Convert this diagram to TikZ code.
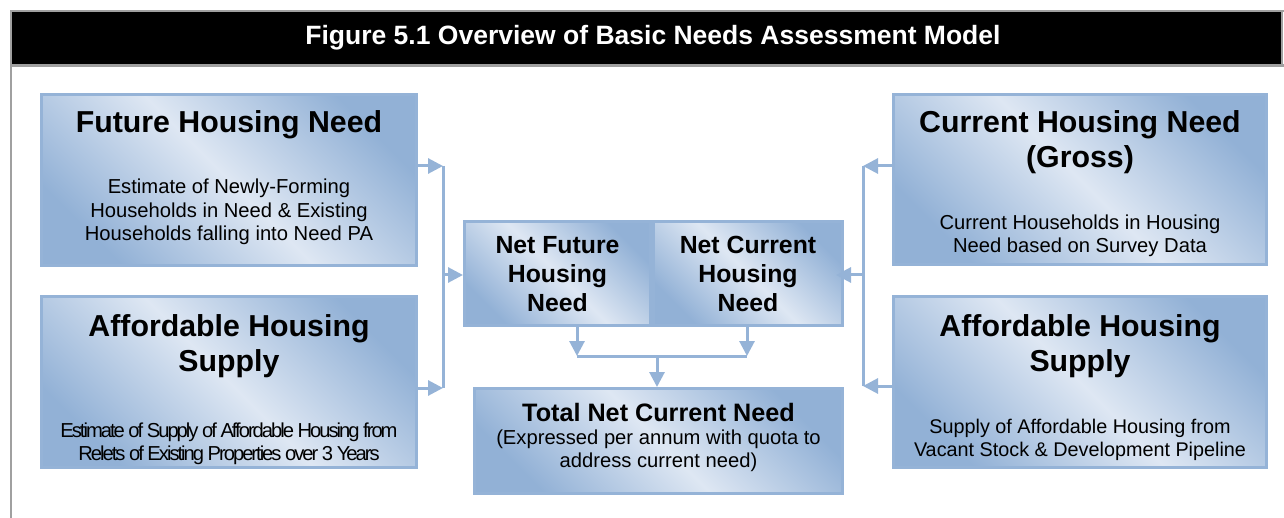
\documentclass[tikz,border=0pt]{standalone}
\usepackage{fontspec}
\setmainfont{Liberation Sans}
\newfontfamily\tightfont[LetterSpace=-10]{Liberation Sans}
\usepackage{tikz}
\usetikzlibrary{
    positioning,
    arrows.meta
}
\definecolor{EdgeBlue}{RGB}{149,179,215}
\definecolor{DarkBlue}{RGB}{146,177,214}
\definecolor{LightBlue}{RGB}{222,231,243}
\definecolor{FrameGray}{RGB}{160,160,160}

\begin{document}
\begin{tikzpicture}[
                    x=1pt, y=-1pt,
                    every node/.style={inner sep=0pt},
                    panel/.style={draw=EdgeBlue, line width=3pt,
                                  top color=DarkBlue, bottom color=DarkBlue,
                                  middle color=LightBlue, shading angle=-45},
                    headtitle/.style={white, font=\fontsize{26.5}{30}\bfseries\selectfont},
                    boxhead/.style={align=center, font=\fontsize{30.3}{35}\bfseries\selectfont},
                    boxtext/.style={align=center, font=\fontsize{20.2}{23.5}\selectfont},
                    nethead/.style={align=center, font=\fontsize{24.8}{29}\bfseries\selectfont},
                    bus/.style={EdgeBlue, line width=3pt},
                    feed/.style={EdgeBlue, line width=3pt,
                                 -{Triangle[length=15pt,width=15pt]}},
                ]
                  \useasboundingbox (0,0) rectangle (1284,518);

                  % Frame and heading
                  \draw[FrameGray, line width=2.5pt, fill=black] (11,11) rectangle (1282,65.5);
                  \draw[FrameGray, line width=2.5pt] (1282,11) -- (1284,11);
                  \draw[FrameGray, line width=2.5pt] (11,65.5) -- (11,518);
                  \draw[FrameGray, line width=2.5pt] (1282,65.5) -- (1284,65.5);
                  \node[headtitle] (title) at (653,38) {Figure 5.1 Overview of Basic Needs Assessment Model};

                  % ---- Left column ----
                  \node[panel, minimum width=375pt, minimum height=171pt] (fhn) at (229,180) {};
                  \node[boxhead] (fhn head) at (229,125) {Future Housing Need};
                  \node[boxtext] (fhn text) at (229,212) {Estimate of Newly-Forming\\Households in Need \& Existing\\Households falling into Need PA};

                  \node[panel, minimum width=375pt, minimum height=171pt] (ahsl) at (229,382) {};
                  \node[boxhead] (ahsl head) at (229,346) {Affordable Housing\\Supply};
                  \node[boxtext, font=\fontsize{20.2}{23.5}\tightfont] (ahsl text) at (229,444) {Estimate of Supply of Affordable Housing from\\Relets of Existing Properties over 3 Years};

                  % ---- Right column ----
                  \node[panel, minimum width=373pt, minimum height=170pt] (chn) at (1080,179.5) {};
                  \node[boxhead] (chn head) at (1080,142) {Current Housing Need\\(Gross)};
                  \node[boxtext] (chn text) at (1080,236) {Current Households in Housing\\Need based on Survey Data};

                  \node[panel, minimum width=373pt, minimum height=171pt] (ahsr) at (1080,382) {};
                  \node[boxhead] (ahsr head) at (1080,346) {Affordable Housing\\Supply};
                  \node[boxtext, font=\fontsize{19.8}{23.5}\selectfont] (ahsr text) at (1080,440) {Supply of Affordable Housing from\\Vacant Stock \& Development Pipeline};

                  % ---- Centre ----
                  \node[panel, minimum width=186pt, minimum height=104pt] (nfh) at (557.5,273.5) {};
                  \node[nethead] (nfh head) at (557.5,274) {Net Future\\Housing\\Need};
                  \node[panel, minimum width=189pt, minimum height=104pt] (nch) at (748,273.5) {};
                  \node[nethead] (nch head) at (748,274) {Net Current\\Housing\\Need};

                  \node[panel, minimum width=368pt, minimum height=105pt] (tnc) at (658.5,441) {};
                  \node[font=\fontsize{25.2}{29}\bfseries\selectfont] (tnc head) at (658.5,412) {Total Net Current Need};
                  \node[boxtext] (tnc text) at (658.5,451) {(Expressed per annum with quota to\\address current need)};

                  % Left bus
                  \coordinate (lbus top) at (443,166);
                  \coordinate (lbus mid) at (443,275);
                  \coordinate (lbus bot) at (443,388);
                  \draw[feed] (fhn.east |- lbus top) -- (lbus top);
                  \draw[feed] (ahsl.east |- lbus bot) -- (lbus bot);
                  \draw[bus] (lbus top) -- (lbus bot);
                  \draw[feed] (lbus mid) -- (lbus mid -| nfh.west);

                  % Right bus
                  \coordinate (rbus top) at (863,166);
                  \coordinate (rbus mid) at (863,275);
                  \coordinate (rbus bot) at (863,386);
                  \draw[feed] (chn.west |- rbus top) -- (rbus top);
                  \draw[feed] (ahsr.west |- rbus bot) -- (rbus bot);
                  \draw[bus] (rbus top) -- (rbus bot);
                  \draw[feed, shorten >=-8pt] (rbus mid) -- (rbus mid -| nch.east);

                  % Join to the total
                  \coordinate (join l) at (577,356);
                  \coordinate (join m) at (657,356);
                  \coordinate (join r) at (747,356);
                  \draw[feed] (nfh.south -| join l) -- (join l);
                  \draw[feed] (nch.south -| join r) -- (join r);
                  \draw[bus] (join l) -- (join r);
                  \draw[feed] (join m) -- (join m |- tnc.north);
                \end{tikzpicture}
\end{document}
